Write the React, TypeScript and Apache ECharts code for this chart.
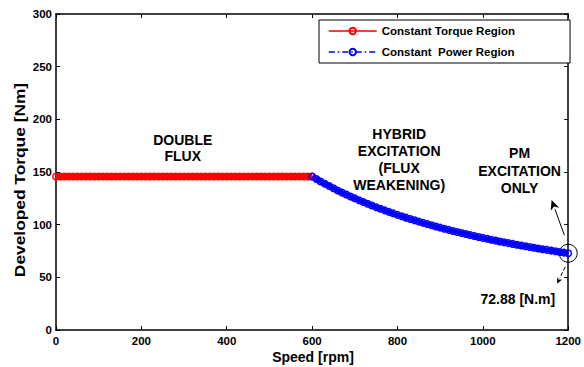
import React, { useEffect, useRef } from "react";
import * as echarts from "echarts";

// Constant torque region (speed in rpm, torque in N.m)
const torqueSpeeds = [
  0, 10, 20, 30, 40, 50, 60, 70, 80, 90, 100, 110, 120, 130, 140, 150, 160, 170, 180, 190,
  200, 210, 220, 230, 240, 250, 260, 270, 280, 290, 300, 310, 320, 330, 340, 350, 360, 370, 380, 390,
  400, 410, 420, 430, 440, 450, 460, 470, 480, 490, 500, 510, 520, 530, 540, 550, 560, 570, 580, 590, 600,
];
const torqueValues = [
  145.76, 145.76, 145.76, 145.76, 145.76, 145.76, 145.76, 145.76, 145.76, 145.76,
  145.76, 145.76, 145.76, 145.76, 145.76, 145.76, 145.76, 145.76, 145.76, 145.76,
  145.76, 145.76, 145.76, 145.76, 145.76, 145.76, 145.76, 145.76, 145.76, 145.76,
  145.76, 145.76, 145.76, 145.76, 145.76, 145.76, 145.76, 145.76, 145.76, 145.76,
  145.76, 145.76, 145.76, 145.76, 145.76, 145.76, 145.76, 145.76, 145.76, 145.76,
  145.76, 145.76, 145.76, 145.76, 145.76, 145.76, 145.76, 145.76, 145.76, 145.76, 145.76,
];

// Constant power region
const powerSpeeds = [
  600, 610, 620, 630, 640, 650, 660, 670, 680, 690, 700, 710, 720, 730, 740, 750, 760, 770, 780, 790,
  800, 810, 820, 830, 840, 850, 860, 870, 880, 890, 900, 910, 920, 930, 940, 950, 960, 970, 980, 990,
  1000, 1010, 1020, 1030, 1040, 1050, 1060, 1070, 1080, 1090, 1100, 1110, 1120, 1130, 1140, 1150, 1160,
  1170, 1180, 1190, 1200,
];
const powerValues = [
  145.76, 143.37, 141.06, 138.82, 136.65, 134.55, 132.51, 130.53, 128.61, 126.75,
  124.94, 123.18, 121.47, 119.8, 118.18, 116.61, 115.07, 113.58, 112.12, 110.7,
  109.32, 107.97, 106.65, 105.37, 104.11, 102.89, 101.69, 100.52, 99.38, 98.26,
  97.17, 96.11, 95.06, 94.04, 93.04, 92.06, 91.1, 90.16, 89.24, 88.34,
  87.46, 86.59, 85.74, 84.91, 84.09, 83.29, 82.51, 81.73, 80.98, 80.23,
  79.51, 78.79, 78.09, 77.39, 76.72, 76.05, 75.39, 74.75, 74.11, 73.49, 72.88,
];

const seriesNames = ["Constant Torque Region", "Constant  Power Region"];
const xTitle = "Speed [rpm]";
const yTitle = "Developed Torque [Nm]";

// Annotations in data coordinates
const regionLabels = [
  { text: "DOUBLE\nFLUX", x: 297, y: 173, lh: 16 },
  { text: "HYBRID\nEXCITATION\n(FLUX\nWEAKENING)", x: 804, y: 162, lh: 17 },
  { text: "PM\nEXCITATION\nONLY", x: 1086, y: 151, lh: 17.5 },
  { text: "72.88 [N.m]", x: 1082, y: 29.5, lh: 16 },
];
const endPoint = [1200, 72.88];
const arrowUp = [[1191, 90], [1161, 123.5]];
const arrowDown = [[1193, 60], [1174, 44]];

const FONT = 'Arial, "Liberation Sans", sans-serif';

export default function App() {
  const ref = useRef<HTMLDivElement>(null);
  useEffect(() => {
    document.body.style.margin = "0";
    const chart = echarts.init(ref.current!, null, { renderer: "svg" });
    const axisCommon = {
      min: 0,
      axisLine: { show: true, onZero: false, lineStyle: { color: "#000", width: 1.5 } },
      axisTick: { show: true, inside: true, length: 4, lineStyle: { color: "#000", width: 1 } },
      splitLine: { show: false },
    };
    const labelStyle = {
      color: "#000",
      fontWeight: "bold",
      fontSize: 11.5,
      fontFamily: FONT,
      formatter: (v: number) => String(v),
    };
    const option: any = {
      animation: false,
      backgroundColor: "#fff",
      textStyle: { fontFamily: FONT },
      grid: { left: 56, right: 10, top: 14, bottom: 37 },
      legend: {
        data: [
          { name: seriesNames[0], lineStyle: { width: 1.5, type: "solid" } },
          { name: seriesNames[1], lineStyle: { width: 1.5, type: [6, 3, 1.5, 3] } },
        ],
        left: 319,
        top: 20,
        orient: "vertical",
        backgroundColor: "#fff",
        borderColor: "#000",
        borderWidth: 1,
        borderRadius: 0,
        padding: [5, 55, 5, 9],
        itemWidth: 48,
        itemHeight: 8,
        itemGap: 9,
        textStyle: { fontFamily: FONT, fontWeight: "bold", fontSize: 11.5, color: "#000" },
      },
      xAxis: [
        {
          type: "value",
          ...axisCommon,
          max: 1200,
          interval: 200,
          position: "bottom",
          axisLabel: { ...labelStyle, margin: 5 },
        },
        {
          type: "value",
          ...axisCommon,
          max: 1200,
          interval: 200,
          position: "top",
          axisLabel: { show: false },
        },
      ],
      yAxis: [
        {
          type: "value",
          ...axisCommon,
          max: 300,
          interval: 50,
          position: "left",
          axisLabel: { ...labelStyle, margin: 4 },
        },
        {
          type: "value",
          ...axisCommon,
          max: 300,
          interval: 50,
          position: "right",
          axisLabel: { show: false },
        },
      ],
      series: [
        {
          name: seriesNames[0],
          type: "line",
          data: torqueSpeeds.map((s, i) => [s, torqueValues[i]]),
          symbol: "circle",
          symbolSize: 6.5,
          showSymbol: true,
          lineStyle: { color: "#ff0000", width: 5 },
          itemStyle: { color: "rgba(0,0,0,0)", borderColor: "#ff0000", borderWidth: 1.5 },
          emphasis: { disabled: true },
        },
        {
          name: seriesNames[1],
          type: "line",
          data: powerSpeeds.map((s, i) => [s, powerValues[i]]),
          symbol: "circle",
          symbolSize: 6.5,
          showSymbol: true,
          lineStyle: { color: "#0000ff", width: 5 },
          itemStyle: { color: "rgba(0,0,0,0)", borderColor: "#0000ff", borderWidth: 1.5 },
          emphasis: { disabled: true },
        },
      ],
    };
    chart.setOption(option);

    const px = (p: number[]) => chart.convertToPixel({ xAxisIndex: 0, yAxisIndex: 0 }, p) as number[];
    const graphics: any[] = [];
    regionLabels.forEach((l) => {
      const p = px([l.x, l.y]);
      graphics.push({
        type: "text",
        x: p[0],
        y: p[1],
        style: {
          text: l.text,
          fill: "#000",
          font: `bold 14px ${FONT}`,
          align: "center",
          verticalAlign: "middle",
          lineHeight: l.lh,
        },
      });
    });
    const ep = px(endPoint);
    graphics.push({ type: "circle", shape: { cx: ep[0], cy: ep[1], r: 9 }, style: { fill: "none", stroke: "#000", lineWidth: 1 } });

    const arrow = (seg: number[][], dashed: boolean, head: number) => {
      const a = px(seg[0]);
      const b = px(seg[1]);
      const dx = b[0] - a[0];
      const dy = b[1] - a[1];
      const len = Math.hypot(dx, dy);
      const ux = dx / len;
      const uy = dy / len;
      const base = [b[0] - ux * head, b[1] - uy * head];
      const w = head * 0.45;
      graphics.push({
        type: "line",
        shape: { x1: a[0], y1: a[1], x2: base[0], y2: base[1] },
        style: { stroke: "#000", lineWidth: 1, lineDash: dashed ? [4, 2] : null },
      });
      graphics.push({
        type: "polygon",
        shape: {
          points: [
            [b[0], b[1]],
            [base[0] - uy * w, base[1] + ux * w],
            [base[0] + ux * head * 0.3, base[1] + uy * head * 0.3],
            [base[0] + uy * w, base[1] - ux * w],
          ],
        },
        style: { fill: "#000" },
      });
    };
    arrow(arrowUp, false, 10);
    arrow(arrowDown, true, 6);

    graphics.push({
      type: "text",
      x: 20,
      y: 180,
      rotation: Math.PI / 2,
      scaleX: 1.24,
      style: { text: yTitle, fill: "#000", font: `bold 14px ${FONT}`, align: "center", verticalAlign: "middle" },
    });
    graphics.push({
      type: "text",
      x: 313,
      y: 357,
      style: { text: xTitle, fill: "#000", font: `bold 14px ${FONT}`, align: "center", verticalAlign: "middle" },
    });
    chart.setOption({ graphic: graphics });

    return () => chart.dispose();
  }, []);
  return <div ref={ref} style={{ position: "absolute", left: 0, top: 0, width: 584, height: 367 }} />;
}
